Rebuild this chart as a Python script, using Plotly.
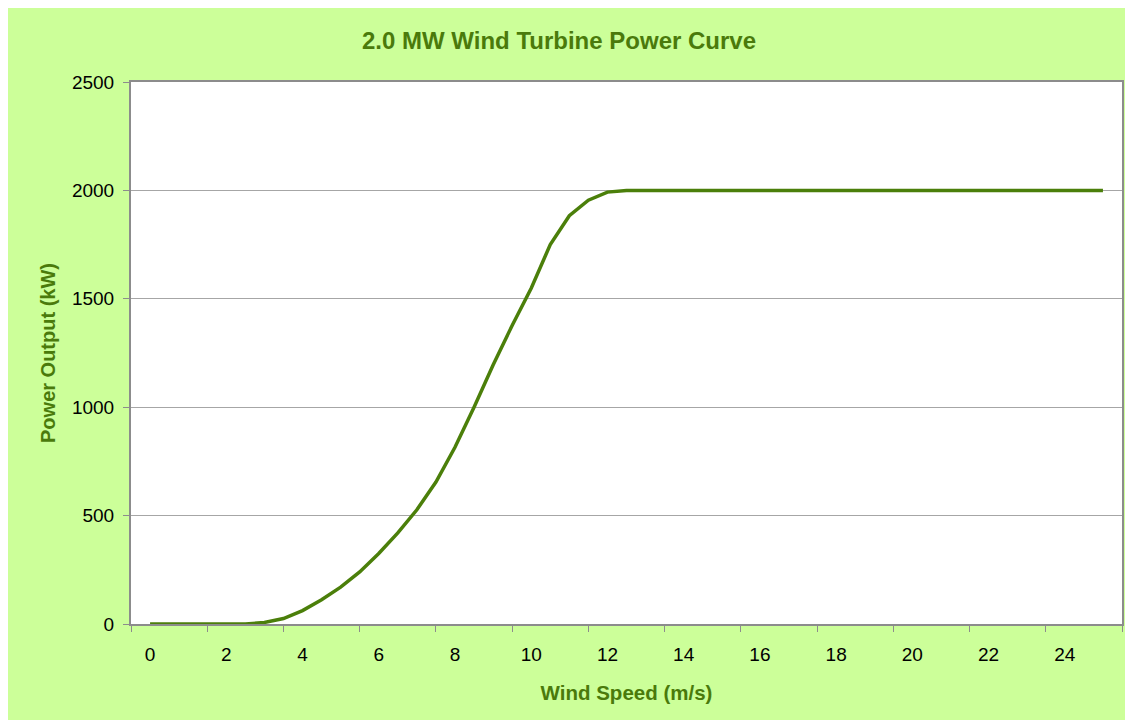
import plotly.graph_objects as go

# Data
wind_speed = [0, 0.5, 1, 1.5, 2, 2.5, 3, 3.5, 4, 4.5, 5, 5.5, 6, 6.5, 7, 7.5, 8, 8.5, 9, 9.5,
              10, 10.5, 11, 11.5, 12, 12.5, 13, 14, 15, 16, 17, 18, 19, 20, 21, 22, 23, 24, 25]
power_kw = [0, 0, 0, 0, 0, 0, 7, 25, 62, 112, 170, 240, 325, 420, 527, 655, 815, 1000, 1195, 1377,
            1549, 1750, 1883, 1955, 1992, 2000, 2000, 2000, 2000, 2000, 2000, 2000, 2000, 2000, 2000,
            2000, 2000, 2000, 2000]

x_tick_vals = list(range(0, 25, 2))
x_tick_text = [str(v) for v in x_tick_vals]
x_boundary_ticks = [v - 0.5 for v in range(0, 27, 2)]
y_tick_vals = [0, 500, 1000, 1500, 2000, 2500]

GREEN_BG = "#CCFF99"
DARK_GREEN = "#4B7F0A"
TEXT_GREEN = "#4A7A0B"
GRAY = "#8C8C8C"
FONT = "Arial, Liberation Sans, sans-serif"

fig = go.Figure()
fig.add_trace(go.Scatter(
    x=wind_speed, y=power_kw, mode="lines",
    line=dict(color=DARK_GREEN, width=3.5),
    hoverinfo="x+y", showlegend=False,
))

fig.update_layout(
    width=1133, height=720,
    paper_bgcolor=GREEN_BG, plot_bgcolor="white",
    margin=dict(l=123, r=19, t=74, b=104),
    font=dict(family=FONT, size=19, color="black"),
    title=dict(text="<b>2.0 MW Wind Turbine Power Curve</b>",
               font=dict(family=FONT, size=24, color=TEXT_GREEN),
               x=(551 - 123) / 991, xref="paper", xanchor="center",
               y=1 - 33 / 720, yref="container", yanchor="middle"),
)

fig.update_xaxes(
    range=[-0.5, 25.5], tickmode="array", tickvals=x_tick_vals, ticktext=x_tick_text,
    ticks="", showgrid=False, zeroline=False,
    showline=True, linecolor=GRAY, linewidth=2, mirror=True,
    tickfont=dict(family=FONT, size=19, color="black"),
    ticklabelstandoff=12,
    minor=dict(tickmode="array", tickvals=x_boundary_ticks, ticks="outside",
               ticklen=6, tickcolor=GRAY, tickwidth=1, showgrid=False),
    title=dict(text="<b>Wind Speed (m/s)</b>",
               font=dict(family=FONT, size=20.5, color=TEXT_GREEN), standoff=22),
)

fig.update_yaxes(
    range=[0, 2500], tickmode="array", tickvals=y_tick_vals,
    ticks="outside", ticklen=6, tickcolor=GRAY, tickwidth=1,
    showgrid=True, gridcolor="#A6A6A6", gridwidth=1, zeroline=False,
    showline=True, linecolor=GRAY, linewidth=2, mirror=True,
    tickfont=dict(family=FONT, size=19, color="black"),
    ticklabelstandoff=5,
    title=dict(text="<b>Power Output (kW)</b>",
               font=dict(family=FONT, size=20, color=TEXT_GREEN), standoff=11),
)

fig.write_html("out.html")
